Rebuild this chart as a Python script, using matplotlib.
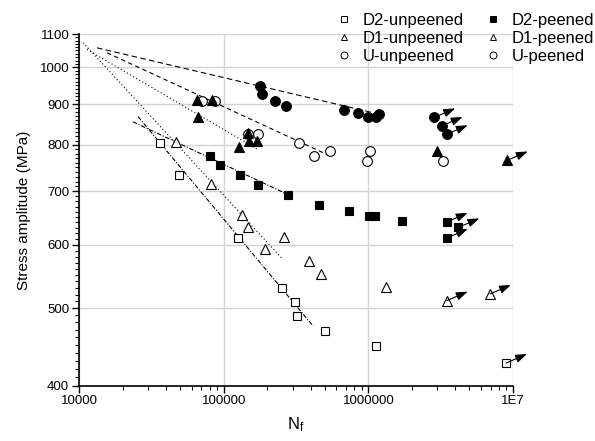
import matplotlib
matplotlib.use("Agg")
import matplotlib.pyplot as plt
from matplotlib.lines import Line2D
import numpy as np

plt.rcParams['font.family'] = ['Liberation Sans', 'DejaVu Sans']
plt.rcParams['mathtext.default'] = 'regular'

# ---------------- data ----------------
d2_un_N = [36300, 49150, 125200, 252200, 311700, 321900, 502600, 1127000, 8970000]
d2_un_S = [805, 734, 612, 530, 509, 489, 468, 448, 427]
d2_un_run = [0, 0, 0, 0, 0, 0, 0, 0, 1]

d1_un_N = [47100, 81800, 133400, 146800, 193200, 263000, 391400, 471600, 1334000, 3490000, 6950000]
d1_un_S = [806, 715, 654, 632, 593, 613, 572, 552, 531, 511, 521]
d1_un_run = [0, 0, 0, 0, 0, 0, 0, 0, 0, 1, 1]

u_un_N = [71300, 87200, 148300, 172200, 332300, 421700, 544500, 1029000, 986000, 3300000]
u_un_S = [907, 907, 826, 826, 804, 774, 785, 785, 764, 764]
u_un_run = [0] * 10

d2_p_N = [80200, 94000, 129100, 174000, 280300, 457000, 736000, 1018000, 1120000, 1720000,
          3490000, 4200000, 3490000]
d2_p_S = [774, 754, 734, 713, 693, 672, 662, 652, 652, 642, 641, 631, 612]
d2_p_run = [0, 0, 0, 0, 0, 0, 0, 0, 0, 0, 1, 1, 1]

d1_p_N = [65200, 83600, 66800, 128400, 148300, 150600, 169500, 2980000, 9080000]
d1_p_S = [911, 911, 868, 796, 828, 810, 810, 787, 765]
d1_p_run = [0, 0, 0, 0, 0, 0, 0, 0, 1]

u_p_N = [178600, 183400, 226700, 268800, 683300, 854300, 1000000, 1130000, 1190000,
         2860000, 3220000, 3490000]
u_p_S = [947, 926, 907, 896, 885, 877, 866, 868, 874, 866, 845, 825]
u_p_run = [0, 0, 0, 0, 0, 0, 0, 0, 0, 1, 1, 1]

# fitted S-N lines: start / end (cycles, MPa)
fit_names = ['D1-unpeened', 'D1-peened', 'U-peened', 'U-unpeened', 'D2-unpeened', 'D2-peened']
fit_N0 = [10660, 11360, 13320, 15620, 25590, 23630]
fit_S0 = [1074, 1053, 1058, 1043, 868, 855]
fit_N1 = [257500, 173000, 1190000, 544500, 415000, 280300]
fit_S1 = [575, 789, 874, 775, 475, 693]
fit_styles = [(0, (1, 2.2)), (0, (1, 2.2)), (0, (5, 3)), (0, (4, 3)),
              (0, (4, 1.5, 1, 1.5)), (0, (4, 1.5, 1, 1.5))]

x_ticks = [10000, 100000, 1000000, 10000000]
x_tick_labels = ['10000', '100000', '1000000', '1E7']
y_ticks = [400, 500, 600, 700, 800, 900, 1000, 1100]

# ---------------- figure ----------------
fig = plt.figure(figsize=(5.95, 4.41), dpi=100)
ax = fig.add_axes([79 / 595, 1 - 385.7 / 441, 434 / 595, 351.4 / 441])
ax.set_xscale('log')
ax.set_yscale('log')
ax.set_xlim(10000, 1e7)
ax.set_ylim(400, 1100)

ax.grid(True, which='major', color='#d4d4d4', linewidth=1.0)
ax.set_axisbelow(True)

for n0, s0, n1, s1, ls in zip(fit_N0, fit_S0, fit_N1, fit_S1, fit_styles):
    ax.plot([n0, n1], [s0, s1], color='black', linewidth=0.8, linestyle=ls, zorder=2)

series = [
    (d2_un_N, d2_un_S, d2_un_run, 's', 'white', 6.3),
    (d1_un_N, d1_un_S, d1_un_run, '^', 'white', 7.5),
    (u_un_N, u_un_S, u_un_run, 'o', 'white', 7.0),
    (d2_p_N, d2_p_S, d2_p_run, 's', 'black', 6.3),
    (d1_p_N, d1_p_S, d1_p_run, '^', 'black', 7.5),
    (u_p_N, u_p_S, u_p_run, 'o', 'black', 7.0),
]
for N, S, run, mk, fc, ms in series:
    ax.plot(N, S, linestyle='none', marker=mk, markersize=ms, markerfacecolor=fc,
            markeredgecolor='black', markeredgewidth=0.8, zorder=3)
    for n, s, r in zip(N, S, run):
        if r:
            ax.annotate('', xy=(n, s), xycoords='data',
                        xytext=(15, 6.5), textcoords='offset points',
                        arrowprops=dict(arrowstyle='<|-,head_length=0.7,head_width=0.25',
                                        color='black', lw=0.8, shrinkA=0, shrinkB=0),
                        zorder=4)

ax.set_xticks(x_ticks)
ax.set_xticklabels(x_tick_labels)
ax.set_yticks(y_ticks)
ax.set_yticklabels([str(v) for v in y_ticks])
ax.yaxis.set_minor_locator(matplotlib.ticker.MultipleLocator(10))
ax.yaxis.set_minor_formatter(matplotlib.ticker.NullFormatter())
ax.xaxis.set_minor_locator(matplotlib.ticker.LogLocator(base=10, subs=np.arange(2, 10)))
ax.xaxis.set_minor_formatter(matplotlib.ticker.NullFormatter())
ax.tick_params(which='major', direction='out', length=5, width=1, labelsize=9.5, pad=2)
ax.tick_params(which='minor', direction='out', length=3, width=0.8)
for side in ['top', 'right']:
    ax.spines[side].set_visible(False)
for side in ['left', 'bottom']:
    ax.spines[side].set_linewidth(1.2)

ax.set_ylabel('Stress amplitude (MPa)', fontsize=11, labelpad=6)
ax.set_xlabel('N$_{f}$', fontsize=12, labelpad=6)

legend_labels = ['D2-unpeened', 'D1-unpeened', 'U-unpeened', 'D2-peened', 'D1-peened', 'U-peened']
legend_markers = ['s', '^', 'o', 's', '^', 'o']
legend_faces = ['white', 'white', 'white', 'black', 'white', 'white']
handles = [Line2D([], [], linestyle='none', marker=m, markersize=5, markerfacecolor=f,
                  markeredgecolor='black', markeredgewidth=0.7)
           for m, f in zip(legend_markers, legend_faces)]
fig.legend(handles, legend_labels, ncol=2, loc='upper left',
           bbox_to_anchor=(324 / 595, 1 - 1 / 441), frameon=False, fontsize=12,
           handlelength=1.0, handletextpad=0.6, columnspacing=1.3,
           labelspacing=0.2, borderpad=0.2)

fig.savefig('out.png', dpi=100)
